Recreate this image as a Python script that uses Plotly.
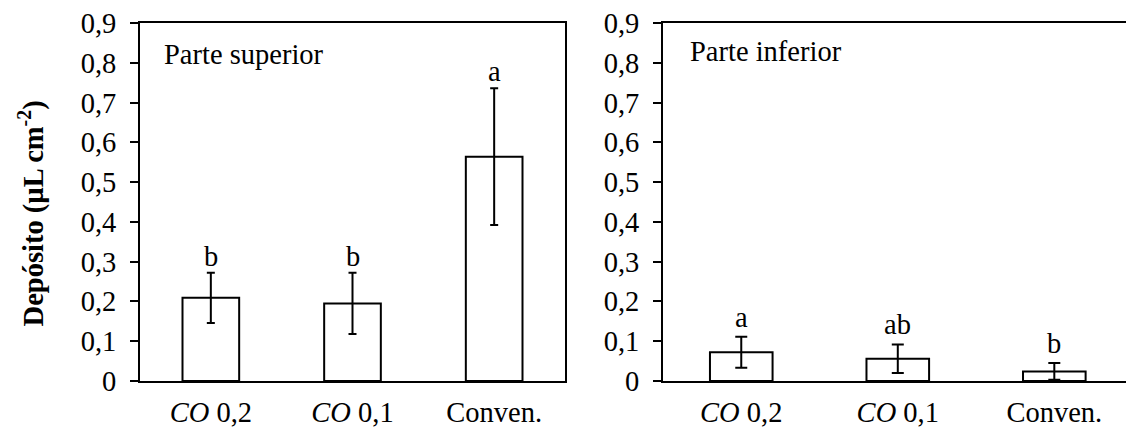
import plotly.graph_objects as go

categories = ["<i>CO</i> 0,2", "<i>CO</i> 0,1", "Conven."]
sup_mean = [0.209, 0.195, 0.564]
sup_err = [0.063, 0.077, 0.172]
sup_letters = ["b", "b", "a"]
inf_mean = [0.072, 0.056, 0.024]
inf_err = [0.039, 0.036, 0.021]
inf_letters = ["a", "ab", "b"]
y_ticks = [0, 0.1, 0.2, 0.3, 0.4, 0.5, 0.6, 0.7, 0.8, 0.9]
y_ticktext = ["0" if v == 0 else f"{v:.1f}".replace(".", ",") for v in y_ticks]

FONT = "Liberation Serif"
FS = 28.5
W, H = 1126, 428
xpos = list(range(len(categories)))

fig = go.Figure()
fig.add_trace(go.Bar(x=xpos, y=sup_mean, width=0.4, marker=dict(color="white", line=dict(color="black", width=2)),
                     error_y=dict(type="data", array=sup_err, color="black", thickness=2, width=4),
                     xaxis="x", yaxis="y", showlegend=False))
fig.add_trace(go.Bar(x=xpos, y=inf_mean, width=0.4, marker=dict(color="white", line=dict(color="black", width=2)),
                     error_y=dict(type="data", array=inf_err, color="black", thickness=2, width=6),
                     xaxis="x2", yaxis="y2", showlegend=False))

ann = []
for i, (m, e, l) in enumerate(zip(sup_mean, sup_err, sup_letters)):
    ann.append(dict(x=i, y=m + e, xref="x", yref="y", text=l, showarrow=False, yanchor="bottom", yshift=-1,
                    font=dict(family=FONT, size=FS, color="black")))
for i, (m, e, l) in enumerate(zip(inf_mean, inf_err, inf_letters)):
    ann.append(dict(x=i, y=m + e, xref="x2", yref="y2", text=l, showarrow=False, yanchor="bottom", yshift=2,
                    font=dict(family=FONT, size=FS, color="black")))
ann.append(dict(x=162 / W, y=0.912, xref="paper", yref="paper", text="Parte superior", showarrow=False,
                xanchor="left", yanchor="middle", font=dict(family=FONT, size=FS, color="black")))
ann.append(dict(x=688 / W, y=0.92, xref="paper", yref="paper", text="Parte inferior", showarrow=False,
                xanchor="left", yanchor="middle", font=dict(family=FONT, size=FS, color="black")))
ann.append(dict(x=31 / W, y=0.468, xref="paper", yref="paper", text="<b>Depósito (µL cm<sup>-2</sup>)</b>",
                showarrow=False, textangle=-90, xanchor="center", yanchor="middle",
                font=dict(family=FONT, size=FS, color="black")))

yax = dict(range=[0, 0.9], tickvals=y_ticks, ticktext=y_ticktext, ticks="outside", ticklen=8, tickwidth=2,
           tickcolor="black", showline=True, linecolor="black", linewidth=2, showgrid=False, zeroline=False,
           ticklabelstandoff=8, tickfont=dict(family=FONT, size=FS, color="black"))
xax = dict(tickvals=xpos, ticktext=categories, ticks="", showline=True, linecolor="black", linewidth=2,
           mirror=True, showgrid=False, zeroline=False, ticklabelstandoff=5,
           tickfont=dict(family=FONT, size=FS, color="black"))

fig.update_layout(
    width=W, height=H, margin=dict(l=0, r=0, t=23, b=42),
    paper_bgcolor="white", plot_bgcolor="white", bargap=0.6,
    font=dict(family=FONT, size=FS, color="black"),
    xaxis=dict(xax, domain=[140 / W, 565 / W], range=[-0.5, 2.5], anchor="y"),
    yaxis=dict(yax, domain=[0, 1], anchor="x", mirror=True),
    xaxis2=dict(xax, domain=[663 / W, 1.0], range=[-0.5, 2.458], anchor="y2"),
    yaxis2=dict(yax, domain=[0, 1], anchor="x2", mirror=False),
    annotations=ann,
)
fig.write_html("out.html")
